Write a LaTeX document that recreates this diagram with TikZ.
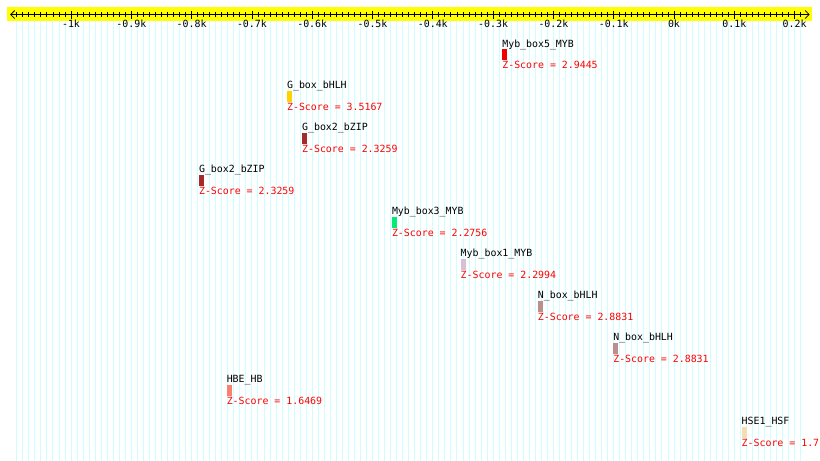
\documentclass[tikz,border=0pt]{standalone}
\usepackage{fontspec}
\setmonofont{DejaVu Sans Mono}
\usetikzlibrary{arrows.meta}
\definecolor{gridcyan}{RGB}{204,255,255}
\definecolor{bandyellow}{RGB}{255,255,0}
\definecolor{sitered}{RGB}{238,0,0}
\definecolor{sitegold}{RGB}{255,210,0}
\definecolor{sitebrown}{RGB}{165,42,42}
\definecolor{sitegreen}{RGB}{0,238,118}
\definecolor{sitethistle}{RGB}{216,191,216}
\definecolor{siterosy}{RGB}{188,143,143}
\definecolor{sitesalmon}{RGB}{250,128,114}
\definecolor{sitewheat}{RGB}{245,222,179}

\begin{document}
\begin{tikzpicture}[x=0.603pt,y=-1pt,font=\ttfamily\fontsize{9.9}{12}\selectfont,
  lbl/.style={anchor=base west,inner sep=0pt},
  zlbl/.style={lbl,text=red},
  sitebar/.style={anchor=north west,inner sep=0pt,minimum width=5pt,minimum height=11pt}]
% Page
\useasboundingbox[fill=white] ({-674/0.603},0) rectangle ({146/0.603},461);
% Ruler band
\fill[bandyellow] (-1106,7) rectangle (229,21);
% Grid and minor ticks
\foreach \t in {-1090,-1080,...,210} {
  \draw[gridcyan, line width=0.9pt] (\t,21) -- (\t,461);
  \draw[line width=0.8pt] (\t,12) -- (\t,17);
}
% Axis line
\coordinate (axl) at (-1101,14.5);
\coordinate (axr) at (225,14.5);
\draw[{Straight Barb[length=4pt,width=8pt]}-{Straight Barb[length=4pt,width=8pt]}, line width=0.8pt] (axl) -- (axr);
% Major ticks with labels
\foreach \t/\l in {-1000/-1k,-900/-0.9k,-800/-0.8k,-700/-0.7k,-600/-0.6k,-500/-0.5k,-400/-0.4k,-300/-0.3k,-200/-0.2k,-100/-0.1k,0/0k,100/0.1k,200/0.2k} {
  \draw[line width=0.8pt] (\t,10.5) -- (\t,18.5);
  \node[anchor=base,inner sep=0pt] (t\t) at (\t,27.5) {\l};
}
% Binding sites, one row each
\foreach \x/\nm/\col/\z [count=\i] in {
  -285/Myb\_box5\_MYB/sitered/2.9445,
  -642/G\_box\_bHLH/sitegold/3.5167,
  -617/G\_box2\_bZIP/sitebrown/2.3259,
  -788/G\_box2\_bZIP/sitebrown/2.3259,
  -468/Myb\_box3\_MYB/sitegreen/2.2756,
  -354/Myb\_box1\_MYB/sitethistle/2.2994,
  -226/N\_box\_bHLH/siterosy/2.8831,
  -101/N\_box\_bHLH/siterosy/2.8831,
  -742/HBE\_HB/sitesalmon/1.6469,
  112/HSE1\_HSF/sitewheat/1.7} {
  \pgfmathsetmacro{\yb}{47+42*(\i-1)}
  \node[lbl] (n\i) at (\x,\yb) {\nm};
  \node[sitebar, fill=\col] (b\i) at (\x,\yb+2) {};
  \node[zlbl] (z\i) at (\x,\yb+22) {Z-Score = \z};
}
\end{tikzpicture}
\end{document}
